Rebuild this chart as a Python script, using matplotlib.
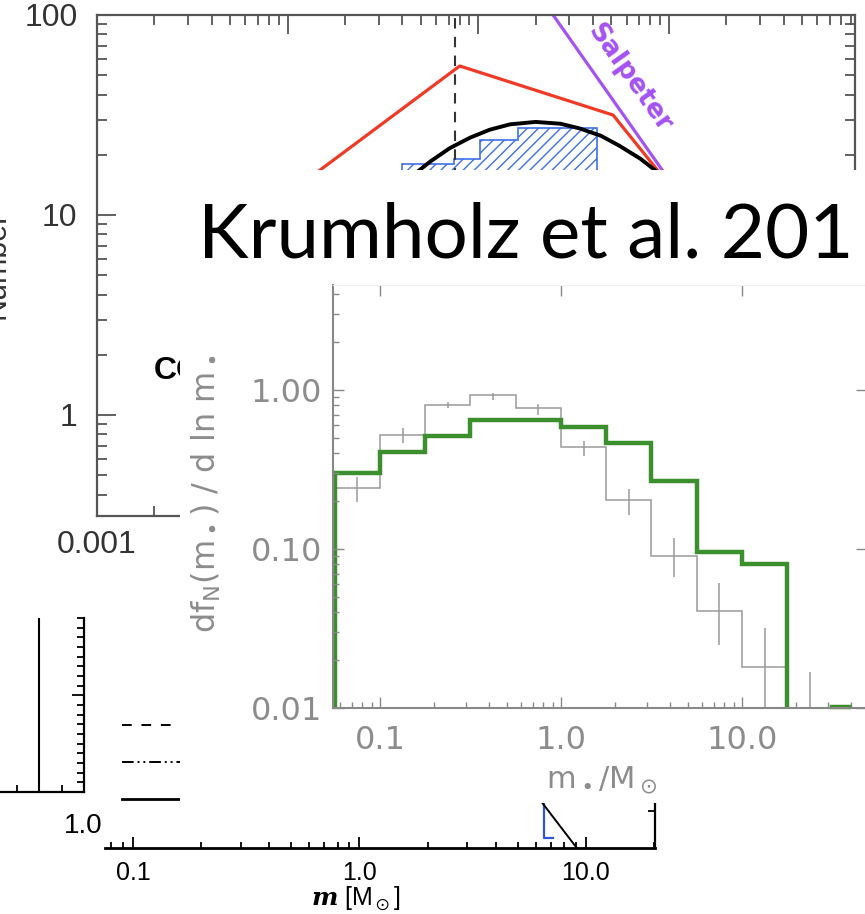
import numpy as np
import matplotlib
matplotlib.use("Agg")
import matplotlib.pyplot as plt
from matplotlib.patches import Rectangle
from matplotlib.transforms import Bbox, TransformedBbox
from matplotlib.ticker import LogLocator, NullFormatter, FixedLocator, MultipleLocator, NullLocator

plt.rcParams['mathtext.default'] = 'regular'
plt.rcParams['hatch.linewidth'] = 1.0

# ---------------- data ----------------
# background panel (top): IMF comparison
red_m = [0.01, 0.080, 0.51, 0.87, 1.2]
red_n = [12.7, 55.6, 31.6, 16.8, 11.4]
salpeter_m = [0.24, 1.5]
salpeter_n = [104.0, 8.7]
chabrier_m = [0.044, 0.056, 0.071, 0.091, 0.115, 0.147, 0.20, 0.27, 0.34, 0.44, 0.55, 0.71, 0.90]
chabrier_n = [15.4, 18.5, 21.6, 24.4, 26.7, 28.4, 29.2, 28.6, 27.1, 24.9, 22.2, 19.1, 16.0]
blue_edges = [0.0398, 0.0746, 0.102, 0.162, 0.420]
blue_counts = [18.0, 19.05, 23.7, 27.2]
peak_mass = 0.076
top_xticks = [0.001, 0.01, 0.1, 1.0]
top_xticklabels = ['0.001', '', '', '']
top_yticks = [1, 10, 100]
top_yticklabels = ['1', '10', '100']

# Krumholz et al. inset: df_N / d ln m
bin_edges = [0.0562, 0.1, 0.178, 0.316, 0.562, 1.0, 1.78, 3.16, 5.62, 10.0, 17.8]
sim_vals = [0.30, 0.41, 0.515, 0.647, 0.647, 0.588, 0.462, 0.267, 0.0957, 0.080]
obs_edges = [0.0562, 0.1, 0.178, 0.316, 0.562, 1.0, 1.78, 3.16, 5.62, 10.0, 17.8, 31.6]
obs_vals = [0.242, 0.52, 0.81, 0.93, 0.77, 0.44, 0.203, 0.091, 0.041, 0.0182, 0.005]
obs_lo = [0.198, 0.462, 0.77, 0.87, 0.70, 0.385, 0.163, 0.0665, 0.0249, 0.005, 0.005]
obs_hi = [0.285, 0.574, 0.84, 0.955, 0.82, 0.48, 0.24, 0.117, 0.061, 0.0319, 0.0168]
tail_m = [31.6, 39.0]
tail_v = [0.0101, 0.0101]
in_xticks = [0.1, 1.0, 10.0]
in_xticklabels = ['0.1', '1.0', '10.0']
in_yticks = [0.01, 0.1, 1.0]
in_yticklabels = ['0.01', '0.10', '1.00']

# bottom background panel
bot_xticks = [0.1, 1.0, 10.0]
bot_xticklabels = ['0.1', '1.0', '10.0']
leg_x = [0.0894, 0.2]
leg_y = [1.392, 1.244, 1.096]
blue_l_x = [6.53, 6.53, 7.14]
blue_l_y = [1.20, 0.94, 0.94]
diag_x = [6.18, 9.12]
diag_y = [1.10, 0.90]

# left-middle background panel
lm_vline = 1.5

# ---------------- figure ----------------
W, H = 865, 914
fig = plt.figure(figsize=(W / 100, H / 100), dpi=100, facecolor='white')


def box(x0, y0, x1, y1):
    return [x0 / W, (H - y1) / H, (x1 - x0) / W, (y1 - y0) / H]


# --- top background panel ---
ax = fig.add_axes(box(97, 15, 855, 516), zorder=0)
ax.set_xscale('log'); ax.set_yscale('log')
ax.set_xlim(0.001, 9.48); ax.set_ylim(0.3126, 100)
ax.stairs(blue_counts, blue_edges, baseline=0.3126, fill=True, facecolor='none',
          edgecolor='#3d6fe6', hatch='///', lw=1.2)
ax.axvline(peak_mass, color='#333333', ls=(0, (5, 4)), lw=1.5)
ax.plot(red_m, red_n, color='#f03a26', lw=2.3)
ax.plot(salpeter_m, salpeter_n, color='#a452f2', lw=2.3)
ax.plot(chabrier_m, chabrier_n, color='black', lw=2.8)
ax.text(0.62, 48.4, 'Salpeter', color='#a452f2', fontsize=19, fontweight='bold',
        rotation=-54.6, rotation_mode='anchor', ha='center', va='center')
for s in ax.spines.values():
    s.set_color('#555555'); s.set_linewidth(1.6)
ax.set_xticks(top_xticks); ax.set_xticklabels(top_xticklabels)
ax.set_yticks(top_yticks); ax.set_yticklabels(top_yticklabels)
ax.xaxis.set_minor_locator(LogLocator(base=10, subs=np.arange(2, 10)))
ax.yaxis.set_minor_locator(LogLocator(base=10, subs=np.arange(2, 10)))
ax.xaxis.set_minor_formatter(NullFormatter()); ax.yaxis.set_minor_formatter(NullFormatter())
ax.tick_params(which='both', direction='in', top=True, right=True, color='#555555', width=1.3)
ax.tick_params(which='major', length=14)
ax.tick_params(which='minor', length=7)
ax.tick_params(axis='y', which='major', pad=14)
ax.tick_params(axis='x', which='major', pad=10)
for lab in ax.get_xticklabels() + ax.get_yticklabels():
    lab.set_fontfamily('Liberation Sans'); lab.set_fontsize(23); lab.set_color('#333333')

fig.text(-3 / W, 1 - 265 / H, 'Number', rotation=90, ha='center', va='center',
         fontsize=22, family='Liberation Sans', color='#333333', zorder=0.5)
co = fig.text(154 / W, 1 - 379 / H, 'CO', ha='left', va='baseline', fontsize=23,
              fontweight='bold', family='Liberation Sans', color='black', zorder=0.5)
co.set_clip_box(TransformedBbox(Bbox([[0, 0], [180 / W, 1]]), fig.transFigure))
co.set_clip_on(True)

# --- left-middle background panel ---
axl = fig.add_axes(box(-28, 618, 84, 792), zorder=0)
axl.set_xlim(0, 2.489); axl.set_ylim(0, 18)
axl.axvline(lm_vline, color='black', lw=1.5)
axl.spines['top'].set_visible(False); axl.spines['left'].set_visible(False)
for k in ['right', 'bottom']:
    axl.spines[k].set_linewidth(1.6)
axl.xaxis.set_major_locator(NullLocator())
axl.xaxis.set_minor_locator(FixedLocator([1, 2]))
axl.yaxis.set_major_locator(FixedLocator([10]))
axl.yaxis.set_minor_locator(MultipleLocator(1))
axl.tick_params(which='both', direction='in', left=False, right=True, labelleft=False,
                labelbottom=False, width=1.3)
axl.tick_params(which='major', length=9)
axl.tick_params(which='minor', length=5)

# --- bottom background panel ---
axb = fig.add_axes(box(105, 598, 655, 848), zorder=0)
axb.set_xscale('log')
axb.set_xlim(0.0752, 20.2); axb.set_ylim(0.9, 1.9)
axb.plot(leg_x, [leg_y[0]] * 2, color='black', lw=1.4, ls=(0, (5, 5)))
axb.plot(leg_x, [leg_y[1]] * 2, color='black', lw=1.4, ls=(0, (6, 2, 1, 2, 1, 2)))
axb.plot(leg_x, [leg_y[2]] * 2, color='black', lw=2.0)
axb.plot(blue_l_x, blue_l_y, color='#2f55d8', lw=1.6)
axb.plot(diag_x, diag_y, color='black', lw=1.4)
axb.spines['top'].set_visible(False); axb.spines['left'].set_visible(False)
axb.spines['bottom'].set_linewidth(2.0); axb.spines['right'].set_linewidth(1.6)
axb.set_xticks(bot_xticks); axb.set_xticklabels(bot_xticklabels)
axb.xaxis.set_minor_locator(LogLocator(base=10, subs=np.arange(2, 10)))
axb.xaxis.set_minor_formatter(NullFormatter())
axb.tick_params(axis='x', which='both', direction='in', width=1.3)
axb.tick_params(axis='x', which='major', length=8, labelsize=18, pad=9)
axb.tick_params(axis='x', which='minor', length=4)
axb.set_yticks([1.0]); axb.set_yticklabels(['1.0'])
axb.tick_params(axis='y', length=0, pad=2, labelsize=20)
for lab in axb.get_xticklabels() + axb.get_yticklabels():
    lab.set_fontfamily('Liberation Sans')
axr = axb.twinx()
axr.set_ylim(0.9, 1.9)
axr.set_yticks([1.05]); axr.set_yticklabels([''])
axr.tick_params(direction='in', length=5, width=1.3)
for s in axr.spines.values():
    s.set_visible(False)
axb.text(0.96, -0.205, r'$\mathbfit{m}$ [M$_\odot$]', ha='center', va='center', fontsize=18,
         family='Liberation Sans', math_fontfamily='dejavuserif',
         transform=axb.get_xaxis_transform())

# --- white overlay of the inset picture ---
fig.add_artist(Rectangle((180 / W, 1 - 803 / H), 685 / W, 633 / H, transform=fig.transFigure,
                         facecolor='white', edgecolor='none', zorder=1))

# --- Krumholz inset ---
axi = fig.add_axes(box(333, 285, 867, 708), zorder=2)
axi.set_facecolor('none')
axi.set_xscale('log'); axi.set_yscale('log')
axi.set_xlim(0.05499, 49.05); axi.set_ylim(0.01, 4.575)
obs_c = np.sqrt(np.array(obs_edges[:-1]) * np.array(obs_edges[1:]))
axi.stairs(obs_vals, obs_edges, baseline=1e-4, color='#9a9a9a', lw=1.1)
axi.vlines(obs_c, obs_lo, obs_hi, color='#9a9a9a', lw=1.1)
axi.stairs(sim_vals, bin_edges, baseline=1e-4, color='#3b8f2c', lw=3.2)
axi.plot(tail_m, tail_v, color='#3b8f2c', lw=3.2, clip_on=False)
axi.spines['left'].set_color('#888888'); axi.spines['bottom'].set_color('#888888')
axi.spines['left'].set_linewidth(1.5); axi.spines['bottom'].set_linewidth(1.5)
axi.spines['top'].set_color('#f0f0f0'); axi.spines['right'].set_color('#dddddd')
axi.set_xticks(in_xticks); axi.set_xticklabels(in_xticklabels)
axi.set_yticks(in_yticks); axi.set_yticklabels(in_yticklabels)
axi.xaxis.set_minor_locator(LogLocator(base=10, subs=np.arange(2, 10)))
axi.yaxis.set_minor_locator(LogLocator(base=10, subs=np.arange(2, 10)))
axi.xaxis.set_minor_formatter(NullFormatter()); axi.yaxis.set_minor_formatter(NullFormatter())
axi.tick_params(which='both', direction='in', color='#888888', width=1.0,
                top=True, right=True, labelcolor='#8c8c8c', labelsize=23)
axi.tick_params(which='minor', top=False, right=False, length=4)
axi.tick_params(which='major', length=8)
axi.tick_params(axis='y', which='major', pad=8)
axi.tick_params(axis='x', which='major', pad=12)
for lab in axi.get_xticklabels() + axi.get_yticklabels():
    lab.set_fontfamily('DejaVu Sans')

fig.text(206 / W, 1 - 494 / H, r'df$_N$(m$_\bullet$) / d ln m$_\bullet$', rotation=90,
         ha='center', va='center', fontsize=23, color='#8c8c8c', family='DejaVu Sans', zorder=3)
fig.text(602 / W, 1 - 780 / H, r'm$_\bullet$/M$_\odot$', ha='center', va='center',
         fontsize=22, color='#8c8c8c', family='DejaVu Sans', zorder=3)

fig.text(198 / W, 1 - 257 / H, 'Krumholz et al. 201', ha='left', va='baseline',
         fontsize=55, family='Lato', color='black', zorder=3)

fig.savefig('out.png', dpi=100, facecolor='white')
